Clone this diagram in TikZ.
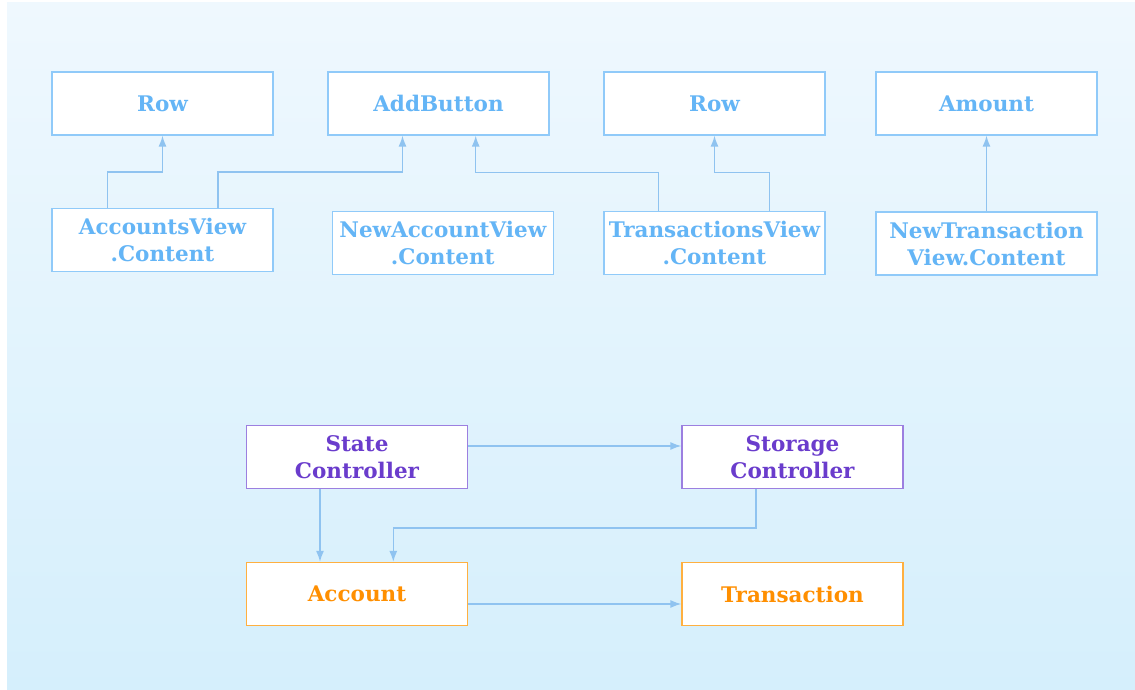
\documentclass[tikz,border=0pt]{standalone}
\usepackage{fontspec}
\setmainfont{DejaVu Serif}
\usetikzlibrary{arrows.meta,calc}
\definecolor{bgtop}{HTML}{EFF8FE}
\definecolor{bgbot}{HTML}{D5EFFC}
\definecolor{bluetxt}{HTML}{64B5F6}
\definecolor{blueline}{HTML}{90CAF9}
\definecolor{arrowc}{HTML}{8FC3F0}
\definecolor{purptxt}{HTML}{6A3CCC}
\definecolor{purpline}{HTML}{9C7FE0}
\definecolor{orgtxt}{HTML}{FF8F00}
\definecolor{orgline}{HTML}{FFB040}
\tikzset{
  box/.style={draw, fill=white, line width=1.2pt, minimum width=221pt, minimum height=63pt,
    inner sep=0pt, align=center, font=\fontsize{21.5}{27}\selectfont\bfseries},
  viewbox/.style={box, draw=blueline, text=bluetxt},
  ctrlbox/.style={box, draw=purpline, text=purptxt},
  modelbox/.style={box, draw=orgline, text=orgtxt},
  arr/.style={draw=arrowc, line width=1.5pt, -{Latex[length=11pt,width=8pt]}}
}
\begin{document}
\begin{tikzpicture}[x=1pt,y=-1pt]
\useasboundingbox (0,0) rectangle (1135,690);
\fill[white] (0,0) rectangle (1135,690);
\shade[top color=bgtop, bottom color=bgbot] (7,3) rectangle (1135,690);

\node[viewbox] (row1) at (162.5,103.5) {Row};
\node[viewbox] (add) at (438.5,103.5) {AddButton};
\node[viewbox] (row2) at (714.5,103.5) {Row};
\node[viewbox] (amt) at (986.5,103.5) {Amount};

\node[viewbox] (av) at (162.5,240) {AccountsView\\.Content};
\node[viewbox] (nav) at (442.8,243) {NewAccountView\\.Content};
\node[viewbox] (tv) at (714.5,243) {TransactionsView\\.Content};
\node[viewbox] (nt) at (986.5,243.5) {NewTransaction\\View.Content};

\node[ctrlbox] (st) at (357,457) {State\\Controller};
\node[ctrlbox] (sc) at (792.5,457) {Storage\\Controller};
\node[modelbox] (acc) at (357,594) {Account};
\node[modelbox] (tr) at (792.5,594) {Transaction};

\draw[arr] ([xshift=56pt]av.north west) -- ++(0,-36) -| (row1.south);
\draw[arr] ([xshift=166.5pt]av.north west) -- ++(0,-36) -| ([xshift=-36pt]add.south);
\draw[arr] ([xshift=55.3pt]tv.north west) -- ++(0,-38.4) -| ([xshift=37.2pt]add.south);
\draw[arr] ([xshift=166pt]tv.north west) -- ++(0,-38.4) -| (row2.south);
\draw[arr] (nt.north) -- (amt.south);

\draw[arr] ([yshift=11pt]st.east) -- ([yshift=11pt]sc.west);
\draw[arr] ([xshift=-37pt]st.south) -- ([xshift=-37pt]acc.north);
\draw[arr] ([xshift=-36.5pt]sc.south) -- ++(0,38.7) -| ([xshift=36.3pt]acc.north);
\draw[arr] ([yshift=-10pt]acc.east) -- ([yshift=-10pt]tr.west);
\end{tikzpicture}
\end{document}
